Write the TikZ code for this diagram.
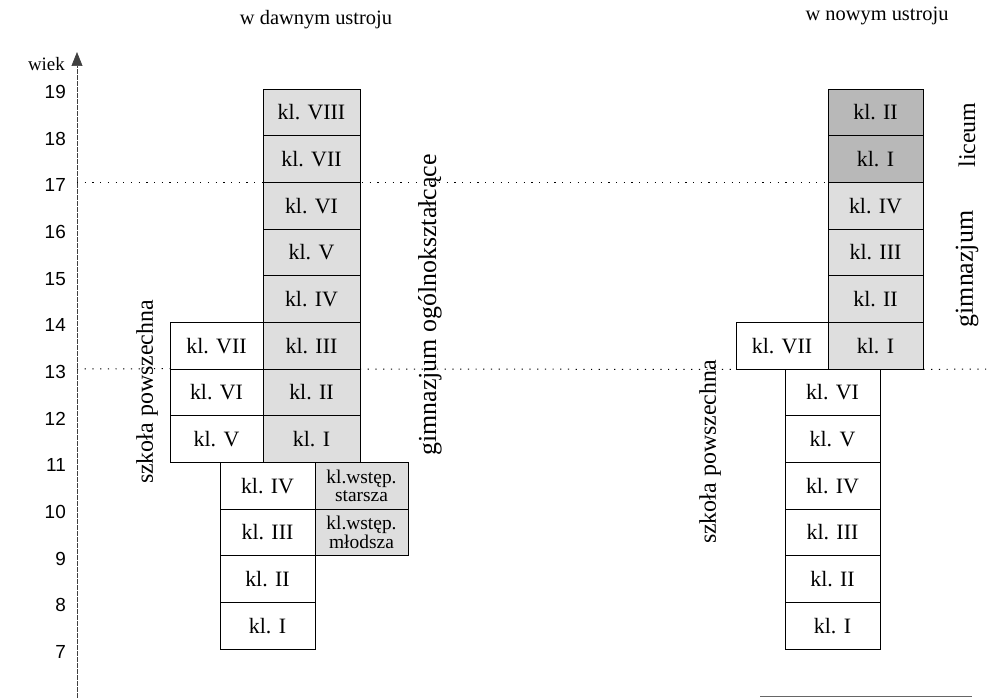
\documentclass[tikz,border=0pt]{standalone}
\usepackage{fontspec}
\setmainfont{Liberation Serif}
\newfontfamily\axisfont{Liberation Sans}
\usetikzlibrary{arrows.meta}
% vertical position of an age boundary
\newcommand\agey[1]{{89+(19-(#1))*46.67}}
\definecolor{shadelight}{gray}{0.87}
\definecolor{shadedark}{gray}{0.72}
\begin{document}
\begin{tikzpicture}[x=1bp,y=-1bp,
  cls/.style={draw=black, line width=0.8bp, fill=white, minimum height=46.67bp,
    inner sep=0pt, font=\fontsize{22}{24}\selectfont},
  colA/.style={cls, minimum width=93bp},
  colB/.style={cls, minimum width=97bp, fill=shadelight},
  colC/.style={cls, minimum width=95bp},
  colD/.style={cls, minimum width=93bp, fill=shadelight, align=center,
    font=\fontsize{19.5}{18.5}\selectfont},
  colE/.style={cls, minimum width=92bp},
  colF/.style={cls, minimum width=95bp, fill=shadelight},
  colFd/.style={colF, fill=shadedark},
  colG/.style={cls, minimum width=95bp},
  dotline/.style={line width=1bp, dash pattern=on 1.2bp off 6.5bp},
  axisline/.style={line width=0.7bp, black!75, dash pattern=on 5bp off 1bp},
  agelab/.style={anchor=east, inner sep=0pt, font=\axisfont\fontsize{19}{21}\selectfont},
  title/.style={font=\fontsize{20.5}{22}\selectfont},
  sidelab/.style={rotate=90, font=\fontsize{24}{26}\selectfont},
  sidelabbig/.style={rotate=90, font=\fontsize{26}{28}\selectfont}]
\useasboundingbox (0,0) rectangle (990,698);

% age axis
\coordinate (axbot) at (77,698);
\coordinate (axtop) at (77,52);
\draw[axisline, -{Triangle[width=11bp,length=14bp]}] (axbot) -- (axtop);
\node[anchor=east, inner sep=0pt, font=\fontsize{19}{21}\selectfont] (wiek) at (65,64) {wiek};
\foreach \n in {7,...,19}
  \node[agelab] (age\n) at (66,{92+(19-\n)*46.67}) {\n};

\coordinate (ax17) at (77,\agey{17});
\coordinate (ax13) at (77,\agey{13});
\coordinate (rt13) at (990,\agey{13});

% titles
\node[title] (old) at (316,20) {w dawnym ustroju};
\node[title] (new) at (877,16) {w nowym ustroju};

% --- former system ---
% primary school, upper classes
\node[colA] (a7) at (216.5,\agey{13.5}) {kl. VII};
\node[colA] (a6) at (216.5,\agey{12.5}) {kl. VI};
\node[colA] (a5) at (216.5,\agey{11.5}) {kl. V};
% primary school, lower classes
\node[colC] (c4) at (267.5,\agey{10.5}) {kl. IV};
\node[colC] (c3) at (267.5,\agey{9.5}) {kl. III};
\node[colC] (c2) at (267.5,\agey{8.5}) {kl. II};
\node[colC] (c1) at (267.5,\agey{7.5}) {kl. I};
% preparatory classes
\node[colD] (d2) at (361.5,\agey{10.5}) {kl.wstęp.\\starsza};
\node[colD] (d1) at (361.5,\agey{9.5}) {kl.wstęp.\\młodsza};

% --- new system ---
\node[colE] (e7) at (782,\agey{13.5}) {kl. VII};
\node[colG] (g6) at (832.5,\agey{12.5}) {kl. VI};
\node[colG] (g5) at (832.5,\agey{11.5}) {kl. V};
\node[colG] (g4) at (832.5,\agey{10.5}) {kl. IV};
\node[colG] (g3) at (832.5,\agey{9.5}) {kl. III};
\node[colG] (g2) at (832.5,\agey{8.5}) {kl. II};
\node[colG] (g1) at (832.5,\agey{7.5}) {kl. I};

% dotted age markers, drawn under the class boxes
\draw[dotline] (ax17) -- (828,\agey{17}) coordinate (f17);
\draw[dotline] (ax13) -- (a6.north west);
\draw[dotline] (360,\agey{13}) coordinate (b13) -- (e7.south west);

% general secondary school (former system)
\node[colB] (b8) at (311.5,\agey{18.5}) {kl. VIII};
\node[colB] (b7) at (311.5,\agey{17.5}) {kl. VII};
\node[colB] (b6) at (311.5,\agey{16.5}) {kl. VI};
\node[colB] (b5) at (311.5,\agey{15.5}) {kl. V};
\node[colB] (b4) at (311.5,\agey{14.5}) {kl. IV};
\node[colB] (b3) at (311.5,\agey{13.5}) {kl. III};
\node[colB] (b2) at (311.5,\agey{12.5}) {kl. II};
\node[colB] (b1) at (311.5,\agey{11.5}) {kl. I};

% gimnazjum and liceum (new system)
\node[colFd] (l2) at (875.5,\agey{18.5}) {kl. II};
\node[colFd] (l1) at (875.5,\agey{17.5}) {kl. I};
\node[colF] (r4) at (875.5,\agey{16.5}) {kl. IV};
\node[colF] (r3) at (875.5,\agey{15.5}) {kl. III};
\node[colF] (r2) at (875.5,\agey{14.5}) {kl. II};
\node[colF] (r1) at (875.5,\agey{13.5}) {kl. I};

\draw[dotline] (r1.south east) -- (rt13);

% school type labels
\node[sidelab] (szkA) at (147,392) {szkoła powszechna};
\node[sidelabbig] (gimA) at (430,305) {gimnazjum ogólnokształcące};
\node[sidelab] (szkB) at (710,452) {szkoła powszechna};
\node[sidelab] (lic) at (967,135) {liceum};
\node[sidelabbig] (gimB) at (967,269) {gimnazjum};

% lower page edge
\coordinate (edgeL) at (760,696);
\coordinate (edgeR) at (972,696);
\draw[line width=0.8bp, black!60] (edgeL) -- (edgeR);
\end{tikzpicture}
\end{document}
